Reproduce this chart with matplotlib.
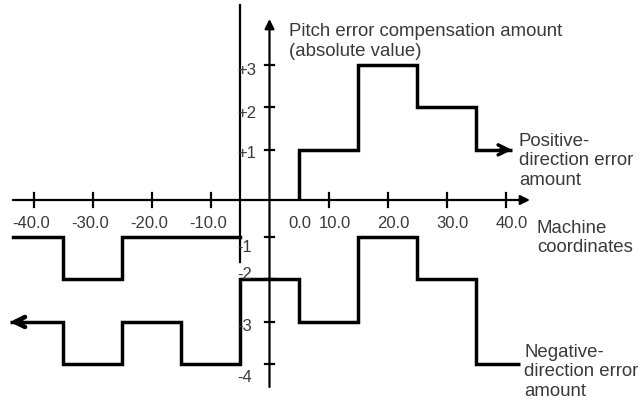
import numpy as np
import matplotlib
matplotlib.use("Agg")
import matplotlib.pyplot as plt
from matplotlib.transforms import offset_copy

plt.rcParams['font.family'] = ['Liberation Sans', 'DejaVu Sans']

# ---------------- data ----------------
x_ticks = [-40, -30, -20, -10, 0, 10, 20, 30, 40]
x_tick_labels = ['-40.0', '-30.0', '-20.0', '-10.0', '0.0', '10.0', '20.0', '30.0', '40.0']
y_ticks = [3, 2, 1, -1, -2, -3, -4]
y_tick_labels = ['+3', '+2', '+1', '-1', '-2', '-3', '-4']

# positive-direction error amount (step edges / levels)
pos_x = [5, 5, 15, 25, 35, 41.1]
pos_y = [0, 1, 3, 2, 1, 1]

# negative-direction error amount (upper trace, left side)
neg_up_x = [-43.5, -35, -25, -5]
neg_up_y = [-1, -2, -1, -1]

# negative-direction error amount (lower trace)
neg_lo_x = [-44.0, -35, -25, -15, -5, 5, 15, 25, 35, 42.5]
neg_lo_y = [-3, -4, -3, -4, -2, -3, -1, -2, -4, -4]

ref_line_x = -5          # vertical reference line
ref_line_span = (-1.45, 4.59)

# ---------------- layout ----------------
W, H, DPI = 641, 402, 100
PX_X = 5.9      # px per x unit
PX_Y = 42.5     # px per y unit
X0, Y0 = 269.5, 201.0
POS_OFF, NEG_OFF = 0.18, 0.13
TXT = '#3a3a3a'
FS_TICK = 12
FS_NOTE = 13.4


def disp(v):
    v = np.asarray(v, dtype=float)
    return np.where(v > 0, v + POS_OFF, np.where(v < 0, v + NEG_OFF, v))


fig = plt.figure(figsize=(W / DPI, H / DPI), dpi=DPI)
ax = fig.add_axes([0, 0, 1, 1])
ax.set_xlim(-X0 / PX_X, (W - X0) / PX_X)
ax.set_ylim(-(H - Y0) / PX_Y, Y0 / PX_Y)
ax.axis('off')

AX_LW = 1.6
STEP_LW = 2.5

# axes with arrow heads
ax.annotate('', xy=(44.15, 0), xytext=(-43.5, 0),
            arrowprops=dict(arrowstyle='-|>', lw=AX_LW, color='black',
                            mutation_scale=14, shrinkA=0, shrinkB=0))
ax.annotate('', xy=(0, (Y0 - 20) / PX_Y), xytext=(0, -(388 - Y0) / PX_Y),
            arrowprops=dict(arrowstyle='-|>', lw=AX_LW, color='black',
                            mutation_scale=14, shrinkA=0, shrinkB=0))
# reference vertical line
ax.plot([ref_line_x, ref_line_x], ref_line_span, color='black', lw=AX_LW)

# x ticks
tick_h = 7 / PX_Y
for v in x_ticks:
    if v != 0:
        ax.plot([v, v], [-tick_h, tick_h], color='black', lw=AX_LW)
# y ticks
tick_w = 4.5 / PX_X
for v in y_ticks:
    d = float(disp(v))
    ax.plot([-tick_w, tick_w], [d, d], color='black', lw=AX_LW)

# x tick labels
for v, lab in zip(x_ticks, x_tick_labels):
    dx = -2 if v < 0 else (30.5 if v == 0 else 6)
    tr = offset_copy(ax.transData, fig=fig, x=dx, y=0, units='dots')
    ax.text(v, -(224 - Y0) / PX_Y, lab, transform=tr, ha='center', va='center',
            fontsize=FS_TICK, color=TXT)

# y tick labels (placed left of the axis, next to reference line)
y_lab_dy = {3: -5, 2: -5, 1: -3, -1: -10, -2: 6, -3: -4, -4: -12}
for v, lab in zip(y_ticks, y_tick_labels):
    tr = offset_copy(ax.transData, fig=fig, x=0, y=y_lab_dy[v], units='dots')
    ax.text((237 - X0) / PX_X, float(disp(v)), lab, transform=tr, ha='left',
            va='center', fontsize=FS_TICK, color=TXT)

# positive-direction trace (line runs to the arrow tip, open head added)
ax.plot(pos_x, disp(pos_y), drawstyle='steps-post', color='black', lw=STEP_LW,
        solid_joinstyle='miter', solid_capstyle='butt')
yp = float(disp(pos_y[-1]))
ax.annotate('', xy=(pos_x[-1], yp), xytext=(pos_x[-1] - 2.0, yp),
            arrowprops=dict(arrowstyle='->', lw=STEP_LW, color='black',
                            mutation_scale=18, shrinkA=0, shrinkB=0))

# negative traces
ax.plot(neg_up_x, disp(neg_up_y), drawstyle='steps-post', color='black',
        lw=STEP_LW, solid_joinstyle='miter')
ax.plot(neg_lo_x, disp(neg_lo_y), drawstyle='steps-post', color='black',
        lw=STEP_LW, solid_joinstyle='miter', solid_capstyle='butt')
yn = float(disp(neg_lo_y[0]))
ax.annotate('', xy=(neg_lo_x[0], yn), xytext=(neg_lo_x[0] + 2.0, yn),
            arrowprops=dict(arrowstyle='->', lw=STEP_LW + 0.8, color='black',
                            mutation_scale=18, shrinkA=0, shrinkB=0))

# annotations
def ftext(px, py, s, **kw):
    fig.text(px / W, 1 - py / H, s, fontsize=FS_NOTE, color=TXT, ha='left',
             va='center', linespacing=1.2, **kw)


ftext(289, 41.5, 'Pitch error compensation amount\n(absolute value)')
ftext(519, 161, 'Positive-\ndirection error\namount')
ftext(537, 238, 'Machine\ncoordinates')
ftext(524, 372, 'Negative-\ndirection error\namount')

fig.savefig('out.png', dpi=DPI)
